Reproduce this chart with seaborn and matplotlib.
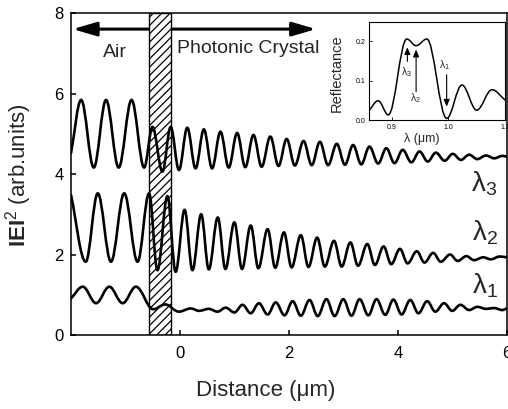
import matplotlib
matplotlib.use("Agg")
import matplotlib.pyplot as plt
import seaborn as sns
import numpy as np
from matplotlib.patheffects import AbstractPathEffect
from matplotlib.path import Path
from matplotlib.transforms import IdentityTransform

# |E|^2 curves at their turning points (x in um)
lam3_x = [-2.0, -1.814, -1.582, -1.357, -1.125, -0.888, -0.657, -0.504, -0.321, -0.17, -0.018,
          0.135, 0.287, 0.44, 0.59, 0.744, 0.896, 1.05, 1.2, 1.35, 1.5, 1.66, 1.81, 1.96, 2.11,
          2.27, 2.42, 2.57, 2.72, 2.88, 3.03, 3.18, 3.33, 3.48, 3.64, 3.79, 3.94, 4.09, 4.25,
          4.40, 4.55, 4.70, 4.86, 5.01, 5.16, 5.31, 5.46, 5.62, 5.77, 5.92, 6.0]
lam3_y = [4.52, 5.84, 4.16, 5.84, 4.16, 5.84, 4.16, 5.17, 4.06, 5.17, 4.10,
          5.15, 4.14, 5.11, 4.14, 5.05, 4.16, 5.02, 4.17, 4.97, 4.18, 4.93, 4.20, 4.87, 4.21,
          4.82, 4.22, 4.80, 4.22, 4.75, 4.23, 4.72, 4.24, 4.68, 4.26, 4.64, 4.27, 4.60, 4.29,
          4.56, 4.31, 4.53, 4.33, 4.50, 4.35, 4.48, 4.37, 4.46, 4.39, 4.45, 4.43]

lam2_x = [-2.0, -1.73, -1.509, -1.266, -1.023, -0.778, -0.566, -0.413, -0.23, -0.079,
          0.086, 0.23, 0.39, 0.53, 0.695, 0.835, 1.0, 1.14, 1.30, 1.44, 1.61, 1.75, 1.91, 2.05,
          2.22, 2.36, 2.52, 2.66, 2.83, 2.97, 3.13, 3.27, 3.44, 3.58, 3.74, 3.88, 4.04, 4.18,
          4.35, 4.49, 4.65, 4.79, 4.96, 5.10, 5.26, 5.40, 5.57, 5.71, 5.87, 6.0]
lam2_y = [3.48, 1.82, 3.52, 1.82, 3.52, 1.82, 3.52, 1.61, 3.45, 1.57,
          3.11, 1.61, 3.00, 1.63, 2.92, 1.64, 2.80, 1.64, 2.72, 1.66, 2.63, 1.67, 2.55, 1.68,
          2.48, 1.69, 2.42, 1.70, 2.34, 1.70, 2.30, 1.72, 2.26, 1.74, 2.20, 1.76, 2.14, 1.78,
          2.08, 1.80, 2.04, 1.82, 2.00, 1.84, 1.96, 1.86, 1.93, 1.88, 1.95, 1.93]

lam1_x = [-2.0, -1.783, -1.54, -1.297, -1.052, -0.809, -0.49, -0.27, -0.02,
          0.20, 0.35, 0.53, 0.69, 0.84, 1.0, 1.15, 1.30, 1.45, 1.61, 1.76, 1.92, 2.07, 2.22,
          2.38, 2.53, 2.69, 2.84, 3.0, 3.15, 3.30, 3.46, 3.61, 3.77, 3.92, 4.07, 4.23, 4.38,
          4.54, 4.69, 4.85, 5.0, 5.15, 5.31, 5.46, 5.62, 5.77, 5.92, 6.0]
lam1_y = [0.91, 1.20, 0.79, 1.20, 0.79, 1.20, 0.64, 0.76, 0.58,
          0.66, 0.60, 0.65, 0.58, 0.68, 0.56, 0.75, 0.54, 0.79, 0.51, 0.81, 0.49, 0.84, 0.48,
          0.87, 0.47, 0.89, 0.47, 0.89, 0.48, 0.89, 0.49, 0.89, 0.50, 0.88, 0.51, 0.87, 0.54,
          0.84, 0.58, 0.79, 0.60, 0.75, 0.62, 0.70, 0.65, 0.67, 0.62, 0.66]

# inset: reflectance spectrum
refl_x = [0.8604, 0.876, 0.894, 0.9265, 0.943, 0.962, 0.997, 1.024, 1.05, 1.077, 1.10]
refl_y = [0.025, 0.049, 0.013, 0.206, 0.189, 0.206, 0.004, 0.089, 0.025, 0.077, 0.051]

barrier = (-0.566, -0.17)   # hatched interface layer


class SmoothCurve(AbstractPathEffect):
    """Draw a polyline as a smooth curve, flat at every inner vertex."""
    k = 0.3634

    def draw_path(self, renderer, gc, tpath, affine, rgbFace=None):
        pts = affine.transform(tpath.vertices)
        n = len(pts)
        verts, codes = [pts[0]], [Path.MOVETO]
        for i in range(n - 1):
            p0, p1 = pts[i], pts[i + 1]
            h = (p1[0] - p0[0]) * self.k
            c0 = p0 + (p1 - p0) * self.k if i == 0 else (p0[0] + h, p0[1])
            c1 = p1 - (p1 - p0) * self.k if i == n - 2 else (p1[0] - h, p1[1])
            verts += [c0, c1, p1]
            codes += [Path.CURVE4] * 3
        renderer.draw_path(gc, Path(verts, codes), IdentityTransform(), None)


sns.set_theme(style="ticks")
plt.rcParams.update({
    "font.family": ["Liberation Sans", "DejaVu Sans"],
    "mathtext.fontset": "custom",
    "mathtext.rm": "Liberation Sans",
    "mathtext.it": "Liberation Sans:italic",
    "mathtext.bf": "Liberation Sans:bold",
    "mathtext.default": "regular",
    "axes.edgecolor": "black",
    "axes.linewidth": 1.1,
    "xtick.direction": "in",
    "ytick.direction": "in",
    "xtick.color": "black",
    "ytick.color": "black",
    "hatch.linewidth": 0.9,
})

fig = plt.figure(figsize=(5.08, 4.09), dpi=100)
ax = fig.add_axes([0.1398, 0.1809, 0.8576, 0.7873])

for xs, ys in [(lam3_x, lam3_y), (lam2_x, lam2_y), (lam1_x, lam1_y)]:
    sns.lineplot(x=xs, y=ys, ax=ax, color="black", lw=1.9, estimator=None, sort=False, zorder=3)
    ax.lines[-1].set_path_effects([SmoothCurve()])

ax.axvspan(*barrier, facecolor="white", edgecolor="black", hatch="////", lw=1.0, zorder=2)

ax.annotate("", xy=(-1.97, 7.6), xytext=(2.5, 7.6), zorder=1.5,
            arrowprops=dict(arrowstyle="<|-|>,head_length=1.2,head_width=0.35",
                            lw=2.2, color="black", shrinkA=0, shrinkB=0))
ax.text(-1.19, 6.91, "Air", ha="center", va="baseline", fontsize=14)
ax.text(1.245, 7.0, "Photonic Crystal", ha="center", va="baseline", fontsize=14)

for lab, xl, yl in [(r"$\lambda_3$", 5.34, 3.56), (r"$\lambda_2$", 5.37, 2.36), (r"$\lambda_1$", 5.37, 1.04)]:
    ax.text(xl, yl, lab, ha="left", va="baseline", fontsize=20)

ax.set_xlim(-2, 6)
ax.set_ylim(0, 8)
ax.set_xticks([0, 2, 4, 6])
ax.set_yticks([0, 2, 4, 6, 8])
ax.tick_params(axis="both", labelsize=12, length=3.6, width=1.1)
ax.tick_params(axis="x", pad=8)
ax.tick_params(axis="y", pad=5.5)
ax.set_xlabel("Distance (μm)", fontsize=16)
ax.set_ylabel(r"$\mathbf{IEI}^2$ (arb.units)", fontsize=16)
ax.xaxis.set_label_coords(0.447, -0.14)
ax.yaxis.set_label_coords(-0.085, 0.497)
for s in ax.spines.values():
    s.set_visible(True)

# inset
axin = fig.add_axes([0.727, 0.7066, 0.2671, 0.2403])
sns.lineplot(x=refl_x, y=refl_y, ax=axin, color="black", lw=1.1, estimator=None, sort=False)
axin.lines[-1].set_path_effects([SmoothCurve()])
axin.set_xlim(0.8604, 1.1)
axin.set_ylim(0, 0.25)
axin.set_xticks([0.9, 1.0, 1.1])
axin.set_yticks([0.0, 0.1, 0.2])
axin.tick_params(axis="both", labelsize=5, length=2, width=0.6, pad=3)
for s in axin.spines.values():
    s.set_linewidth(0.8)
axin.set_ylabel("Reflectance", fontsize=10.5)
axin.set_xlabel("λ (μm)", fontsize=9)
axin.yaxis.set_label_coords(-0.19, 0.48)
axin.xaxis.set_label_coords(0.386, -0.13)

arrow_kw = dict(arrowstyle="-|>,head_length=0.35,head_width=0.15", lw=0.8, color="black",
                shrinkA=0, shrinkB=0)
axin.annotate("", xy=(0.9276, 0.185), xytext=(0.9276, 0.149), arrowprops=arrow_kw)
axin.annotate("", xy=(0.943, 0.179), xytext=(0.943, 0.072), arrowprops=arrow_kw)
axin.annotate("", xy=(0.997, 0.034), xytext=(0.997, 0.115), arrowprops=arrow_kw)
axin.text(0.9265, 0.123, r"$\lambda_3$", ha="center", va="center", fontsize=7.5)
axin.text(0.941, 0.055, r"$\lambda_2$", ha="center", va="center", fontsize=7.5)
axin.text(0.994, 0.14, r"$\lambda_1$", ha="center", va="center", fontsize=7.5)

fig.savefig("out.png", dpi=100)
